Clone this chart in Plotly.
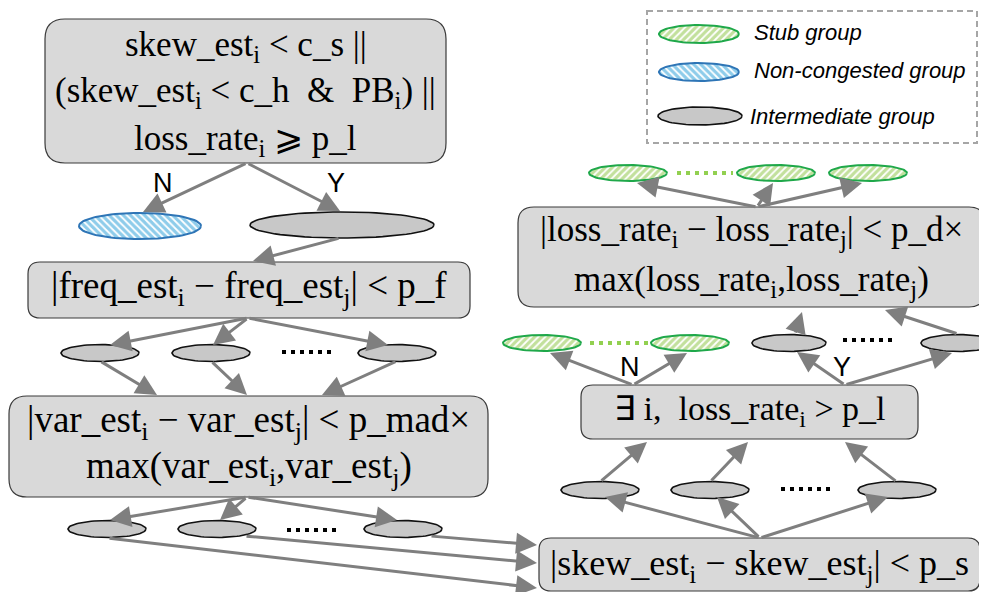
import numpy as np
import plotly.graph_objects as go

# ---------------- content ----------------
box_texts = {
    "cond": ["skew_est<sub>i</sub> &lt; c_s ||",
             "(skew_est<sub>i</sub> &lt; c_h  &amp;  PB<sub>i</sub>) ||",
             "loss_rate<sub>i</sub> ⩾ p_l"],
    "freq": ["|freq_est<sub>i</sub> − freq_est<sub>j</sub>| &lt; p_f"],
    "var": ["|var_est<sub>i</sub> − var_est<sub>j</sub>| &lt; p_mad×",
            "max(var_est<sub>i</sub>,var_est<sub>j</sub>)"],
    "skew": ["|skew_est<sub>i</sub> − skew_est<sub>j</sub>| &lt; p_s"],
    "exist": ["∃ i,  loss_rate<sub>i</sub> &gt; p_l"],
    "loss": ["|loss_rate<sub>i</sub> − loss_rate<sub>j</sub>| &lt; p_d×",
             "max(loss_rate<sub>i</sub>,loss_rate<sub>j</sub>)"],
}
branch_labels = ["N", "Y", "N", "Y"]
legend_labels = ["Stub group", "Non-congested group", "Intermediate group"]
legend_kinds = ["stub", "noncong", "inter"]

# ---------------- layout geometry (pixels, y down) ----------------
W, H = 987, 592
OFF = 8  # page body margin compensation
box_geom = {  # x0, y0, x1, y1, corner radius, text line y centres, font size
    "cond": (45, 19, 446, 163, 20, [46, 92, 140], 35),
    "freq": (28, 262, 470, 318, 12, [288], 37),
    "var": (9, 396, 488, 497, 18, [422, 468], 37),
    "skew": (539, 538, 980, 591, 12, [565], 36),
    "exist": (581, 385, 918, 439, 12, [411], 34),
    "loss": (518, 207, 985, 307, 16, [231, 281], 35),
}
# ellipses: kind, cx, cy, rx, ry
ellipses = [
    ("noncong", 140, 226, 61, 13), ("inter", 342, 225, 92, 13),
    ("inter", 100, 353, 39, 8.5), ("inter", 211, 353, 39, 8.5), ("inter", 397, 353, 39, 8.5),
    ("inter", 107, 529, 39, 8.5), ("inter", 217, 529, 39, 8.5), ("inter", 403, 529, 39, 8.5),
    ("inter", 600, 490, 39, 8.5), ("inter", 710, 490, 39, 8.5), ("inter", 897, 490, 39, 8.5),
    ("stub", 542, 343, 39, 8), ("stub", 690, 343, 39, 8),
    ("inter", 789, 343, 37, 8.5), ("inter", 958, 343, 37, 8.5),
    ("stub", 628, 173, 39, 8), ("stub", 776, 173, 39, 8), ("stub", 868, 173, 39, 8),
]
legend_ell = [(699, 34, 40, 9), (699, 72, 40, 9), (700, 116, 42, 9)]
legend_text_x = [752, 752, 748]
legend_text_y = [32, 70, 116]
# dotted separators: x0, x1, y, colour
dots = [(282, 334, 352, "black"), (287, 340, 530, "black"), (781, 833, 489, "black"),
        (843, 897, 340, "black"), (590, 648, 343, "#92d050"), (677, 733, 173, "#92d050")]
# arrows: tail (ax, ay) -> head (x, y)
arrows = [
    (247, 163, 143, 212), (247, 163, 340, 211),
    (340, 238, 253, 261),
    (248, 318, 110, 345), (248, 318, 213, 345), (248, 318, 388, 345),
    (100, 361, 157, 395), (211, 361, 247, 395), (397, 361, 322, 395),
    (247, 497, 110, 520), (247, 497, 220, 520), (247, 497, 397, 520),
    (108, 538, 537, 588), (245, 536, 537, 563), (430, 536, 537, 545),
    (760, 538, 605, 497), (760, 538, 717, 497), (760, 538, 888, 497),
    (600, 482, 647, 442), (710, 482, 748, 442), (897, 482, 845, 442),
    (633, 385, 550, 353), (633, 385, 687, 353),
    (845, 385, 797, 352), (845, 385, 952, 353),
    (795, 334, 802, 312), (958, 334, 885, 310),
    (757, 207, 637, 183), (757, 207, 773, 183), (757, 207, 862, 183),
]
branch_pos = [(163, 183), (336, 183), (630, 367), (842, 367)]

ARROW = "#7f7f7f"
BOXFILL = "#d9d9d9"
GREYELL = "#c8c8c8"
SERIF = "Liberation Serif"
SANS = "Liberation Sans"

fig = go.Figure()
shapes = []
annotations = []


def rrect(x0, y0, x1, y1, r):
    return (f"M {x0+r},{y0} L {x1-r},{y0} Q {x1},{y0} {x1},{y0+r} "
            f"L {x1},{y1-r} Q {x1},{y1} {x1-r},{y1} L {x0+r},{y1} "
            f"Q {x0},{y1} {x0},{y1-r} L {x0},{y0+r} Q {x0},{y0} {x0+r},{y0} Z")


def add_ellipse(kind, cx, cy, rx, ry):
    t = np.linspace(0, 2 * np.pi, 80)
    xs = cx + rx * np.cos(t)
    ys = cy + ry * np.sin(t)
    if kind == "inter":
        fig.add_trace(go.Scatter(x=xs, y=ys, mode="lines", fill="toself",
                                 fillcolor=GREYELL, line=dict(color="#111111", width=1.6),
                                 hoverinfo="skip", showlegend=False))
    elif kind == "stub":
        fig.add_trace(go.Scatter(x=xs, y=ys, mode="lines", fill="toself",
                                 fillcolor="white",
                                 fillpattern=dict(shape="/", fgcolor="#86c23a", bgcolor="white",
                                                  size=5, solidity=0.65),
                                 line=dict(color="#1fa84a", width=2),
                                 hoverinfo="skip", showlegend=False))
    else:
        fig.add_trace(go.Scatter(x=xs, y=ys, mode="lines", fill="toself",
                                 fillcolor="white",
                                 fillpattern=dict(shape="\\", fgcolor="#1e9ad6", bgcolor="white",
                                                  size=5, solidity=0.65),
                                 line=dict(color="#2e75b6", width=2),
                                 hoverinfo="skip", showlegend=False))


# boxes
for key, (x0, y0, x1, y1, r, lys, fs) in box_geom.items():
    shapes.append(dict(type="path", path=rrect(x0, y0, x1, y1, r), xref="x", yref="y",
                       fillcolor=BOXFILL, line=dict(color="#3a3a3a", width=1.2), layer="below"))
    for line_text, ly in zip(box_texts[key], lys):
        annotations.append(dict(x=(x0 + x1) / 2, y=ly, xref="x", yref="y", text=line_text,
                                showarrow=False, font=dict(family=SERIF, size=fs, color="black"),
                                xanchor="center", yanchor="middle"))

# legend frame
shapes.append(dict(type="rect", x0=647, y0=11, x1=977, y1=143, xref="x", yref="y",
                   line=dict(color="#a6a6a6", width=2, dash="6px,4px"), fillcolor="rgba(0,0,0,0)"))

# ellipses
for e in ellipses:
    add_ellipse(*e)
for kind, (cx, cy, rx, ry) in zip(legend_kinds, legend_ell):
    add_ellipse(kind, cx, cy, rx, ry)

# dotted separators
for x0, x1, y, c in dots:
    fig.add_trace(go.Scatter(x=[x0, x1], y=[y, y], mode="lines",
                             line=dict(color=c, width=4, dash="4px,5px"),
                             hoverinfo="skip", showlegend=False))

# arrows
for ax, ay, x, y in arrows:
    annotations.append(dict(x=x, y=y, ax=ax, ay=ay, xref="x", yref="y", axref="x", ayref="y",
                            text="", showarrow=True, arrowhead=2, arrowsize=1.4,
                            arrowwidth=3, arrowcolor=ARROW, standoff=0, startstandoff=0))

# branch labels
for lab, (x, y) in zip(branch_labels, branch_pos):
    annotations.append(dict(x=x, y=y, xref="x", yref="y", text=lab, showarrow=False,
                            font=dict(family=SANS, size=27, color="black"),
                            xanchor="center", yanchor="middle"))

# legend labels
for lab, x, y in zip(legend_labels, legend_text_x, legend_text_y):
    annotations.append(dict(x=x, y=y, xref="x", yref="y", text=f"<i>{lab}</i>", showarrow=False,
                            font=dict(family=SANS, size=22, color="black"),
                            xanchor="left", yanchor="middle"))

fig.update_layout(
    width=W, height=H, margin=dict(l=0, r=0, t=0, b=0),
    paper_bgcolor="white", plot_bgcolor="white",
    xaxis=dict(range=[OFF, W + OFF], visible=False, fixedrange=True),
    yaxis=dict(range=[H + OFF, OFF], visible=False, fixedrange=True),
    shapes=shapes, annotations=annotations, showlegend=False,
)
fig.write_html("out.html")
